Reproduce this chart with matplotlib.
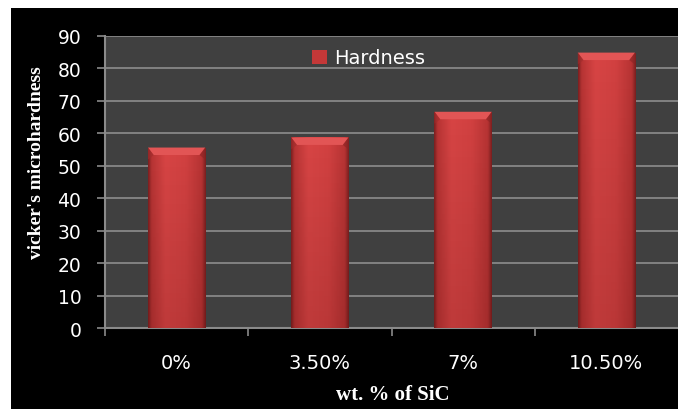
import numpy as np
import matplotlib
matplotlib.use("Agg")
import matplotlib.pyplot as plt
from matplotlib.patches import Rectangle, Polygon
from matplotlib.colors import LinearSegmentedColormap

categories = ["0%", "3.50%", "7%", "10.50%"]
hardness = [55.6, 58.7, 66.6, 84.8]
series_name = "Hardness"
yticks = [0, 10, 20, 30, 40, 50, 60, 70, 80, 90]

W, H = 678, 410
fig = plt.figure(figsize=(W / 100, H / 100), dpi=100, facecolor="white")
bg = Rectangle((11 / W, 0), 1 - 11 / W, 1 - 9 / H, transform=fig.transFigure,
               facecolor="black", edgecolor="none", zorder=-10)
fig.add_artist(bg)

ax = fig.add_axes([105 / W, (H - 329.3) / H, 1 - 105 / W, (329.3 - 36.7) / H])
ax.set_zorder(5)
ax.set_facecolor("#404040")

x = np.arange(len(categories))
bw = 0.40
bars = ax.bar(x, hardness, width=bw, color="#cf3f3f", edgecolor="none", zorder=3)

cmap = LinearSegmentedColormap.from_list(
    "barshade",
    [(0.0, "#7a1f1f"), (0.06, "#b83434"), (0.3, "#d84545"),
     (0.65, "#d24141"), (0.93, "#b83434"), (1.0, "#7a1f1f")])
grad = np.linspace(0, 1, 256).reshape(1, -1)
vgrad = np.linspace(0, 1, 128).reshape(-1, 1)
vcmap = LinearSegmentedColormap.from_list(
    "v", [(0, (0, 0, 0, 0.0)), (1, (0.2, 0, 0, 0.15))])
for b in bars:
    x0, w, h = b.get_x(), b.get_width(), b.get_height()
    im = ax.imshow(grad, cmap=cmap, aspect="auto", extent=(x0, x0 + w, 0, h),
                   zorder=4, interpolation="bicubic")
    im.set_clip_path(b)
    shade = ax.imshow(vgrad, cmap=vcmap, aspect="auto",
                      extent=(x0, x0 + w, 0, h), zorder=5, origin="upper")
    shade.set_clip_path(b)
    bev_h = 2.3
    inset = w * 0.10
    ax.add_patch(Polygon([(x0, h), (x0 + w, h), (x0 + w - inset, h - bev_h),
                          (x0 + inset, h - bev_h)], closed=True,
                         facecolor="#e25555", edgecolor="none", zorder=6))
    ax.add_patch(Polygon([(x0, h), (x0 + inset, h - bev_h), (x0, h - bev_h * 1.6)],
                         closed=True, facecolor="#a02c2c", alpha=0.6,
                         edgecolor="none", zorder=6))
    ax.add_patch(Polygon([(x0 + w, h), (x0 + w - inset, h - bev_h), (x0 + w, h - bev_h * 1.6)],
                         closed=True, facecolor="#8a2424", alpha=0.6,
                         edgecolor="none", zorder=6))

ax.set_xlim(-0.5, len(categories) - 0.5)
ax.set_ylim(0, 90)
ax.set_yticks(yticks)
ax.yaxis.grid(True, color="#8e8e8e", linewidth=1.2, zorder=1)
ax.set_axisbelow(True)

for s in ["top", "right"]:
    ax.spines[s].set_visible(False)
for s in ["left", "bottom"]:
    ax.spines[s].set_color("#8a8a8a")
    ax.spines[s].set_linewidth(1.5)

tickfont = "DejaVu Sans"
ax.tick_params(axis="y", direction="out", length=6, width=1.2, color="#8a8a8a",
               labelcolor="white", labelsize=13.5, pad=11)
for lab in ax.get_yticklabels():
    lab.set_fontfamily(tickfont)

ax.set_xticks(np.arange(-0.5, len(categories) - 0.5, 1.0))
ax.set_xticklabels([])
ax.set_xticks(x, minor=True)
ax.set_xticklabels(categories, minor=True, fontfamily=tickfont)
ax.tick_params(axis="x", which="major", direction="out", length=6, width=1.2,
               color="#8a8a8a")
ax.tick_params(axis="x", which="minor", length=0, labelcolor="white",
               labelsize=14, pad=18)

ax.set_xlabel("wt. % of SiC", fontfamily="Liberation Serif", fontweight="bold",
              color="white", fontsize=15, va="center")
ax.xaxis.set_label_coords((393 - 105) / (W - 105), -(395 - 329.3) / (329.3 - 36.7))
ax.set_ylabel("vicker's microhardness", fontfamily="Liberation Serif",
              fontweight="bold", color="white", fontsize=14, va="center")
ax.yaxis.set_label_coords(-(105 - 37) / (W - 105), (329.3 - 163) / (329.3 - 36.7))

handle = Rectangle((0, 0), 1, 1, facecolor="#c43838", edgecolor="none")
leg = ax.legend([handle], [series_name], loc="center left",
                bbox_to_anchor=((312 - 105) / (W - 105), (329.3 - 59) / (329.3 - 36.7)),
                frameon=False, handlelength=0.75, handleheight=0.75,
                handletextpad=0.4, borderpad=0, borderaxespad=0,
                prop={"family": tickfont, "size": 14})
for t in leg.get_texts():
    t.set_color("white")

fig.savefig("out.png", dpi=100, facecolor=fig.get_facecolor())
